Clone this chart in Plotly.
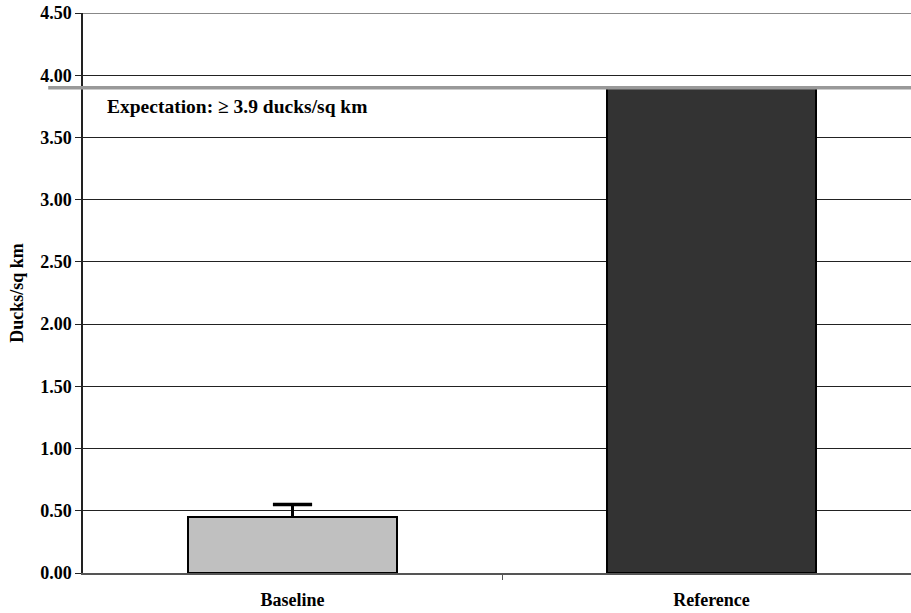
import plotly.graph_objects as go

categories = ["Baseline", "Reference"]
values = [0.45, 3.90]
errors_plus = [0.10, 0.0]
bar_colors = ["#c0c0c0", "#333333"]
expectation = 3.9
y_ticks = [0, 0.5, 1.0, 1.5, 2.0, 2.5, 3.0, 3.5, 4.0, 4.5]

font_fam = "Liberation Serif, Times New Roman, serif"

xpos = list(range(len(categories)))

fig = go.Figure()
fig.add_trace(go.Bar(
    x=xpos, y=values, width=0.5,
    marker=dict(color=bar_colors, line=dict(color="black", width=2)),
    error_y=dict(type="data", array=errors_plus, arrayminus=[0] * len(values),
                 visible=True, color="black", thickness=3, width=0,
                 symmetric=False),
    showlegend=False,
))
# top caps of the error bars only (no cap at the bar top)
cap_x = [x for x, e in zip(xpos, errors_plus) if e > 0]
cap_y = [v + e for v, e in zip(values, errors_plus) if e > 0]
fig.add_trace(go.Scatter(x=cap_x, y=cap_y, mode="markers",
                         marker=dict(symbol="line-ew-open", size=28, color="black",
                                     line=dict(color="black", width=3.5)),
                         showlegend=False, hoverinfo="skip"))
# invisible trace for secondary x axis (category boundary ticks)
fig.add_trace(go.Scatter(x=[0.5], y=[0], xaxis="x2", mode="markers",
                         marker=dict(opacity=0), showlegend=False, hoverinfo="skip"))

fig.add_shape(type="line", xref="paper", yref="y", x0=-0.042, x1=1, y0=expectation, y1=expectation,
              line=dict(color="#999999", width=3.5), layer="above")
fig.add_shape(type="line", xref="paper", yref="y", x0=0, x1=1, y0=4.5, y1=4.5,
              line=dict(color="#888888", width=2), layer="above")

fig.add_annotation(xref="paper", yref="y", x=0.027, y=3.745, xanchor="left", yanchor="middle",
                   text="Expectation: ≥ 3.9 ducks/sq km", showarrow=False,
                   font=dict(family=font_fam, size=19.5, color="black", weight="bold"))

fig.update_layout(
    width=911, height=613,
    margin=dict(l=83, r=0, t=13, b=40),
    paper_bgcolor="white", plot_bgcolor="white",
    bargap=0,
    font=dict(family=font_fam, size=17, color="black", weight="bold"),
    xaxis=dict(range=[-0.5, 1.476], tickvals=xpos, ticktext=categories, automargin=False,
               showgrid=False, zeroline=False, showline=True, linecolor="#555555", linewidth=1.5,
               ticks="", ticklabelstandoff=10,
               tickfont=dict(family=font_fam, size=18, weight="bold")),
    xaxis2=dict(overlaying="x", side="bottom", range=[-0.5, 1.476], tickvals=[0.5], automargin=False,
                ticktext=[""], ticks="outside", ticklen=6, tickcolor="#555555",
                showgrid=False, zeroline=False, showline=False, matches="x"),
    yaxis=dict(range=[0, 4.5], tickvals=y_ticks, tickformat=".2f", automargin=False,
               showgrid=True, gridcolor="#222222", gridwidth=1,
               zeroline=False, showline=True, linecolor="#222222", linewidth=1.5,
               ticks="outside", ticklen=6, tickcolor="#222222",
               tickfont=dict(family=font_fam, size=18, weight="bold"),
               title=dict(text="Ducks/sq km", standoff=12,
                          font=dict(family=font_fam, size=18, weight="bold"))),
)

fig.write_html("out.html", config={"displayModeBar": False},
               post_script="document.body.style.margin='0';document.body.style.padding='0';")
